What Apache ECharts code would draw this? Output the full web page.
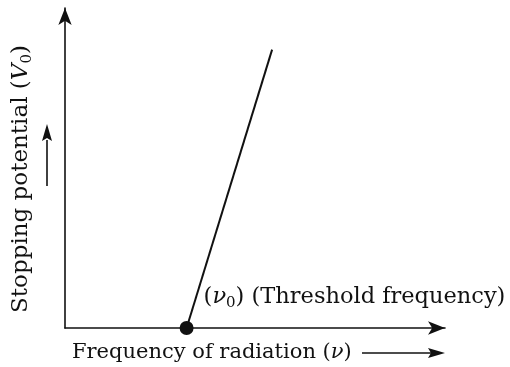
<!DOCTYPE html>
<html>
<head>
<meta charset="utf-8">
<script src="https://cdn.jsdelivr.net/npm/echarts@6/dist/echarts.min.js"></script>
<style>
  html, body { margin: 0; padding: 0; background: #fff; }
  #main { width: 510px; height: 367px; }
</style>
</head>
<body>
<div id="main"></div>
<script>
// data (arbitrary units)
var thresholdFreq = 3.2;            // nu_0, where the line meets the x axis
var lineFreq = [3.2, 5.45];         // frequency at start and end of the line
var linePotential = [0, 8.7];       // stopping potential at start and end

var FONT = 'DejaVu Serif';
var SUB = 15;

var myChart = echarts.init(document.getElementById('main'));

var lineData = lineFreq.map(function (f, i) { return [f, linePotential[i]]; });

option = {
    animation: false,
    grid: { left: 65, right: 65, top: 8, bottom: 39 },
    xAxis: {
        type: 'value', min: 0, max: 10,
        axisLine: { lineStyle: { color: '#111', width: 1.6 }, symbol: ['none', 'arrow'], symbolSize: [10, 17] },
        axisTick: { show: false }, axisLabel: { show: false }, splitLine: { show: false }
    },
    yAxis: {
        type: 'value', min: 0, max: 10,
        axisLine: { lineStyle: { color: '#111', width: 1.6 }, symbol: ['none', 'arrow'], symbolSize: [10, 17] },
        axisTick: { show: false }, axisLabel: { show: false }, splitLine: { show: false }
    },
    series: [{
        type: 'line',
        data: lineData,
        symbol: 'none',
        lineStyle: { color: '#111', width: 2 },
        z: 3
    }, {
        type: 'scatter',
        data: [[thresholdFreq, 0]],
        symbolSize: 14,
        itemStyle: { color: '#111', opacity: 1 },
        z: 4,
        label: {
            show: true,
            position: 'right',
            offset: [5, -31],
            fontFamily: FONT,
            fontSize: 22.5,
            color: '#111',
            formatter: '({nu|ν}{sub|0}) (Threshold frequency)',
            rich: {
                nu: { fontFamily: FONT, fontSize: 22.5, fontStyle: 'italic', color: '#111' },
                sub: { fontFamily: FONT, fontSize: SUB, color: '#111', padding: [12, 0, 0, 0] }
            }
        }
    }],
    graphic: [{
        type: 'text', left: 72, top: 342,
        style: {
            text: 'Frequency of radiation ({i|ν})',
            font: '21px ' + FONT, fill: '#111',
            rich: { i: { fontFamily: FONT, fontSize: 21, fontStyle: 'italic', fill: '#111' } }
        }
    }, {
        type: 'line', shape: { x1: 362, y1: 353, x2: 432, y2: 353 }, style: { stroke: '#111', lineWidth: 1.6 }
    }, {
        type: 'polygon', shape: { points: [[445, 353], [428, 348], [431, 353], [428, 358]] }, style: { fill: '#111' }
    }, {
        type: 'text', x: 21, y: 179, rotation: Math.PI / 2, originX: 0, originY: 0,
        style: {
            text: 'Stopping potential ({i|V}{sub|0})',
            font: '23px ' + FONT, fill: '#111', align: 'center', verticalAlign: 'middle',
            rich: {
                i: { fontFamily: FONT, fontSize: 23, fontStyle: 'italic', fill: '#111' },
                sub: { fontFamily: FONT, fontSize: SUB, fill: '#111', padding: [12, 0, 0, 0] }
            }
        }
    }, {
        type: 'line', shape: { x1: 47, y1: 186, x2: 47, y2: 140 }, style: { stroke: '#111', lineWidth: 1.6 }
    }, {
        type: 'polygon', shape: { points: [[47, 124], [42, 141], [47, 138], [52, 141]] }, style: { fill: '#111' }
    }]
};

myChart.setOption(option);
</script>
</body>
</html>
